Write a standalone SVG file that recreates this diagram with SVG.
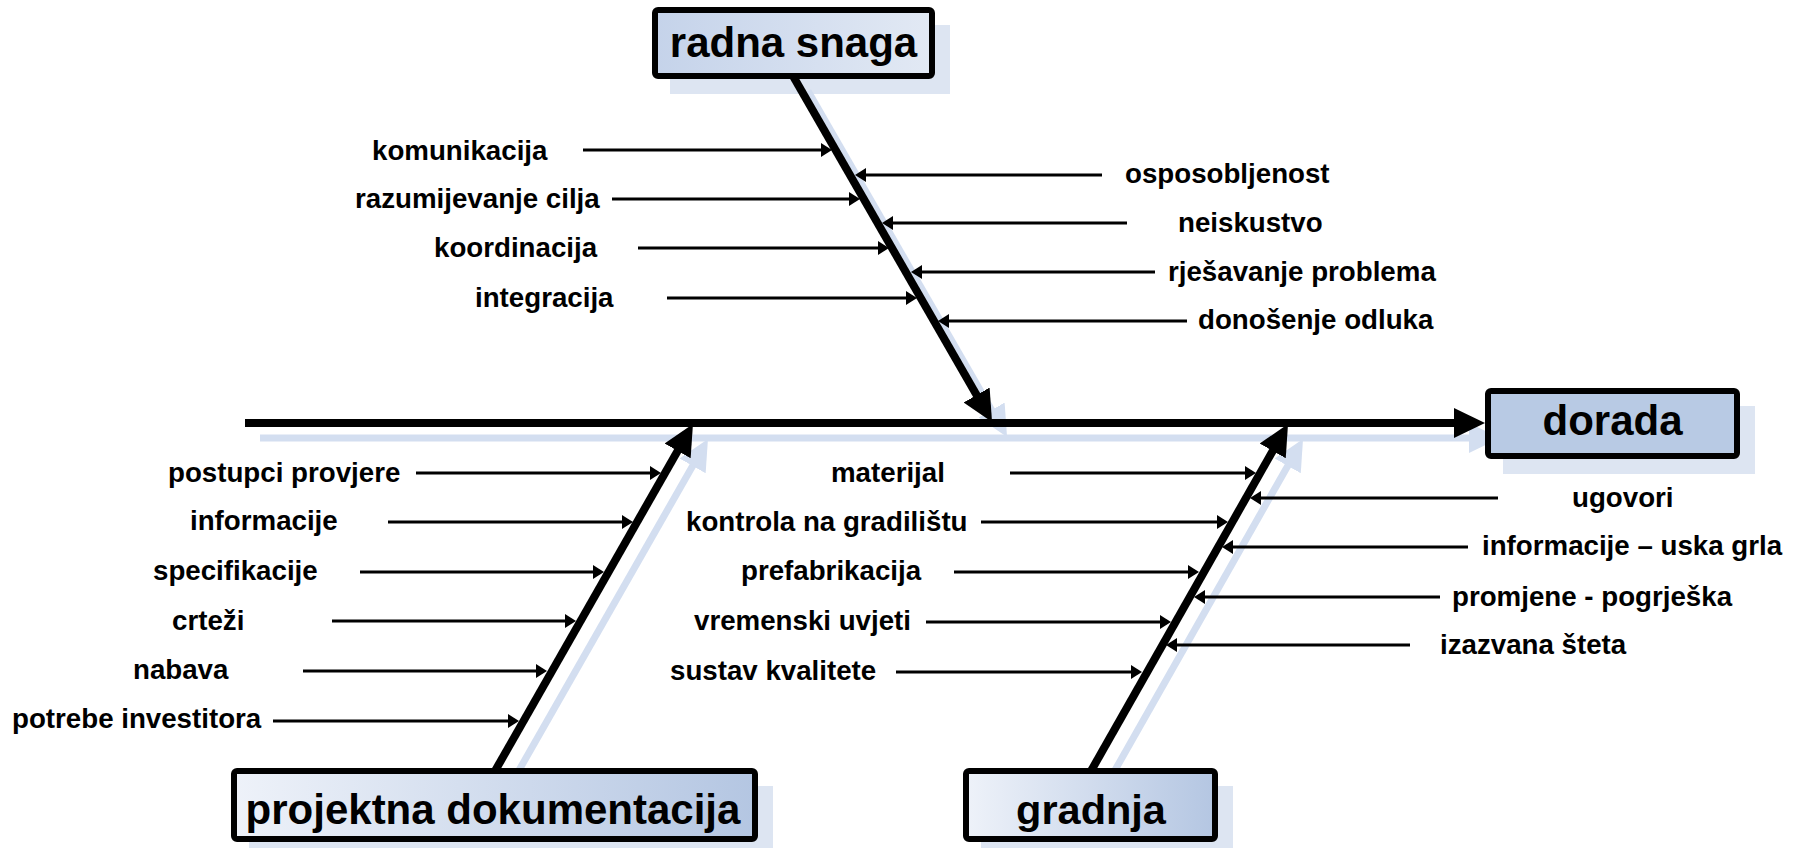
<svg xmlns="http://www.w3.org/2000/svg" width="1804" height="848" viewBox="0 0 1804 848">
<style>
.lbl{font-family:"Liberation Sans",Arial,sans-serif;font-weight:bold;font-size:27.7px;fill:#000}
.ttl{font-family:"Liberation Sans",Arial,sans-serif;font-weight:bold;font-size:42px;fill:#000;text-anchor:middle}
.box{stroke:#000;stroke-width:6}
.shadowbox{fill:#d7e1f0;opacity:0.85}
.bone{stroke:#000;stroke-width:8;fill:none}
.sbone{stroke:#d3def0;stroke-width:7;fill:none}
.arr{stroke:#000;stroke-width:3;fill:none;marker-end:url(#small)}
</style>
<defs>
<marker id="big" markerUnits="userSpaceOnUse" viewBox="0 -16 32 32" markerWidth="32" markerHeight="32" refX="2" refY="0" orient="auto"><path d="M0,-15 L31,0 L0,15 z" fill="#000"/></marker>
<marker id="sbig" markerUnits="userSpaceOnUse" viewBox="0 -16 32 32" markerWidth="32" markerHeight="32" refX="2" refY="0" orient="auto"><path d="M0,-15 L31,0 L0,15 z" fill="#d3def0"/></marker>
<marker id="small" markerUnits="userSpaceOnUse" viewBox="0 -8 12 16" markerWidth="12" markerHeight="16" refX="1" refY="0" orient="auto"><path d="M0,-7 L11,0 L0,7 z" fill="#000"/></marker>
<linearGradient id="gLR" x1="0" y1="0" x2="1" y2="0"><stop offset="0" stop-color="#eef2f9"/><stop offset="1" stop-color="#b4c6e2"/></linearGradient>
<linearGradient id="gRL" x1="0" y1="0" x2="1" y2="0"><stop offset="0" stop-color="#c5d3ea"/><stop offset="1" stop-color="#e2e9f4"/></linearGradient>
</defs>

<g id="shadows">
<rect class="shadowbox" x="670" y="25" width="280" height="69"/>
<rect class="shadowbox" x="1503" y="406" width="252" height="68"/>
<rect class="shadowbox" x="249" y="786" width="524" height="62"/>
<rect class="shadowbox" x="981" y="786" width="252" height="62"/>
<g transform="translate(15,15)">
<line class="sbone" x1="245" y1="423" x2="1456" y2="423" marker-end="url(#sbig)"/>
<line class="sbone" x1="793" y1="76" x2="977.6" y2="396.8" marker-end="url(#sbig)"/>
<line class="sbone" x1="495" y1="771" x2="678.6" y2="449.2" marker-end="url(#sbig)"/>
<line class="sbone" x1="1091" y1="771" x2="1273.7" y2="449.2" marker-end="url(#sbig)"/>
</g>
</g>

<g id="connectors">
<line class="bone" x1="245" y1="423" x2="1456" y2="423" marker-end="url(#big)"/>
<line class="bone" x1="793" y1="76" x2="977.6" y2="396.8" marker-end="url(#big)"/>
<line class="bone" x1="495" y1="771" x2="678.6" y2="449.2" marker-end="url(#big)"/>
<line class="bone" x1="1091" y1="771" x2="1273.7" y2="449.2" marker-end="url(#big)"/>
<!-- radna snaga causes -->
<line class="arr" x1="583" y1="150" x2="822" y2="150"/>
<line class="arr" x1="612" y1="199" x2="850" y2="199"/>
<line class="arr" x1="638" y1="248" x2="879" y2="248"/>
<line class="arr" x1="667" y1="298" x2="907" y2="298"/>
<line class="arr" x1="1102" y1="175" x2="865" y2="175"/>
<line class="arr" x1="1127" y1="223" x2="892" y2="223"/>
<line class="arr" x1="1155" y1="272" x2="921" y2="272"/>
<line class="arr" x1="1187" y1="321" x2="948" y2="321"/>
<!-- projektna dokumentacija causes -->
<line class="arr" x1="416" y1="473" x2="651" y2="473"/>
<line class="arr" x1="388" y1="522" x2="623" y2="522"/>
<line class="arr" x1="360" y1="572" x2="594" y2="572"/>
<line class="arr" x1="332" y1="621" x2="566" y2="621"/>
<line class="arr" x1="303" y1="671" x2="537" y2="671"/>
<line class="arr" x1="273" y1="721" x2="509" y2="721"/>
<!-- gradnja causes -->
<line class="arr" x1="1010" y1="473" x2="1246" y2="473"/>
<line class="arr" x1="981" y1="522" x2="1218" y2="522"/>
<line class="arr" x1="954" y1="572" x2="1189" y2="572"/>
<line class="arr" x1="926" y1="622" x2="1161" y2="622"/>
<line class="arr" x1="896" y1="672" x2="1132" y2="672"/>
<line class="arr" x1="1498" y1="498" x2="1260" y2="498"/>
<line class="arr" x1="1468" y1="547" x2="1232" y2="547"/>
<line class="arr" x1="1440" y1="597" x2="1204" y2="597"/>
<line class="arr" x1="1410" y1="645" x2="1176" y2="645"/>
</g>

<g id="node-radna-snaga">
<rect class="box" x="655" y="10" width="277" height="66" rx="3" fill="url(#gRL)"/>
<text class="ttl" x="793.5" y="57">radna snaga</text>
</g>
<g id="node-dorada">
<rect class="box" x="1488" y="391" width="249" height="65" rx="3" fill="#b8cae4"/>
<text class="ttl" x="1612.5" y="435">dorada</text>
</g>
<g id="node-projektna-dokumentacija">
<rect class="box" x="234" y="771" width="521" height="68" rx="3" fill="url(#gLR)"/>
<text class="ttl" x="493" y="824">projektna dokumentacija</text>
</g>
<g id="node-gradnja">
<rect class="box" x="966" y="771" width="249" height="68" rx="3" fill="url(#gLR)"/>
<text class="ttl" x="1091" y="824" style="font-size:41.5px">gradnja</text>
</g>

<g id="labels">
<text class="lbl" x="372" y="160">komunikacija</text>
<text class="lbl" x="355" y="208">razumijevanje cilja</text>
<text class="lbl" x="434" y="257">koordinacija</text>
<text class="lbl" x="475" y="307">integracija</text>
<text class="lbl" x="1125" y="183">osposobljenost</text>
<text class="lbl" x="1178" y="232">neiskustvo</text>
<text class="lbl" x="1168" y="281">rješavanje problema</text>
<text class="lbl" x="1198" y="329">donošenje odluka</text>
<text class="lbl" x="168" y="482">postupci provjere</text>
<text class="lbl" x="190" y="530">informacije</text>
<text class="lbl" x="153" y="580">specifikacije</text>
<text class="lbl" x="172" y="630">crteži</text>
<text class="lbl" x="133" y="679">nabava</text>
<text class="lbl" x="12" y="728">potrebe investitora</text>
<text class="lbl" x="831" y="482">materijal</text>
<text class="lbl" x="686" y="531">kontrola na gradilištu</text>
<text class="lbl" x="741" y="580">prefabrikacija</text>
<text class="lbl" x="694" y="630">vremenski uvjeti</text>
<text class="lbl" x="670" y="680">sustav kvalitete</text>
<text class="lbl" x="1572" y="507">ugovori</text>
<text class="lbl" x="1482" y="555">informacije – uska grla</text>
<text class="lbl" x="1452" y="606">promjene - pogrješka</text>
<text class="lbl" x="1440" y="654">izazvana šteta</text>
</g>
</svg>
